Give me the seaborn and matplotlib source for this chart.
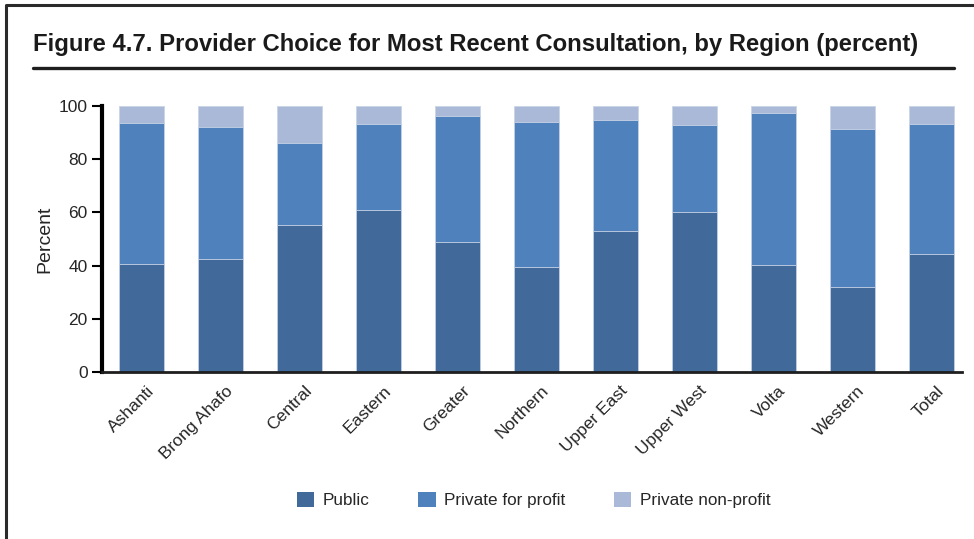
import matplotlib
matplotlib.use("Agg")
import matplotlib.pyplot as plt
import matplotlib.transforms as mtransforms
from matplotlib.lines import Line2D
from matplotlib.patches import Patch
import numpy as np
import pandas as pd
import seaborn as sns

# Regions and provider shares (percent)
regions = ["Ashanti", "Brong Ahafo", "Central", "Eastern", "Greater", "Northern",
           "Upper East", "Upper West", "Volta", "Western", "Total"]
public = [40.7, 42.4, 55.2, 60.8, 48.8, 39.7, 52.9, 60.1, 40.4, 31.9, 44.5]
private_profit = [53.0, 49.6, 31.0, 32.4, 47.6, 54.4, 41.7, 32.9, 57.1, 59.5, 48.9]
private_nonprofit = [6.3, 8.0, 13.8, 6.8, 3.6, 5.9, 5.4, 7.0, 2.5, 8.6, 6.6]

series_names = ["Public", "Private for profit", "Private non-profit"]
colors = ["#416a9b", "#4f81bd", "#aab9d8"]

df = pd.DataFrame({
    "region": regions,
    "Public": public,
    "Private for profit": private_profit,
    "Private non-profit": private_nonprofit,
})
# cumulative tops for stacking
cum = df[series_names].cumsum(axis=1)

sns.set_style("white")
plt.rcParams["font.family"] = ["Liberation Sans", "DejaVu Sans"]

fig = plt.figure(figsize=(9.74, 5.39), dpi=100)
ax = fig.add_axes([0.1044, 0.3093, 0.8830, 0.4941])

# draw from the top layer down so lower segments sit in front
for name, col in zip(reversed(series_names), reversed(colors)):
    sns.barplot(x=df["region"], y=cum[name], color=col, width=0.57,
                saturation=1, edgecolor="#c9d4e6", linewidth=0.6, ax=ax)

ax.set_ylim(0, 100)
ax.set_xlim(-0.5, 10.385)
ax.set_yticks([0, 20, 40, 60, 80, 100])
ax.set_ylabel("Percent", fontsize=14, labelpad=4)
ax.set_xlabel("")

for side in ["top", "right"]:
    ax.spines[side].set_visible(False)
ax.spines["left"].set_linewidth(3)
ax.spines["left"].set_color("black")
ax.spines["bottom"].set_linewidth(2)
ax.spines["bottom"].set_color("#1e1e1e")

ax.tick_params(axis="y", direction="out", length=7, width=1.5, color="black",
               labelsize=12.5, pad=3, left=True)
ax.tick_params(axis="x", length=0, labelsize=12.5, pad=2)

offset = mtransforms.ScaledTranslation(5 / 100, -8 / 100, fig.dpi_scale_trans)
for lbl in ax.get_xticklabels():
    lbl.set_rotation(45)
    lbl.set_ha("right")
    lbl.set_va("top")
    lbl.set_rotation_mode("anchor")
    lbl.set_transform(lbl.get_transform() + offset)

# legend below the plot
handles = [Patch(facecolor=c, edgecolor="none") for c in colors]
fig.legend(handles, series_names, loc="center", bbox_to_anchor=(0.548, 0.072),
           ncol=3, frameon=False, fontsize=12.3, handlelength=1.0, handleheight=1.0,
           columnspacing=2.85, handletextpad=0.5)

# title and rule beneath it
fig.text(33 / 974, 1 - 45 / 539,
         "Figure 4.7. Provider Choice for Most Recent Consultation, by Region (percent)",
         fontsize=17.2, fontweight="bold", ha="left", va="center", color="#1a1a1a")
fig.add_artist(Line2D([33 / 974, 954 / 974], [1 - 68 / 539, 1 - 68 / 539],
                      transform=fig.transFigure, color="#1e1e1e", linewidth=2.4))

# outer frame (left and top edges)
fig.add_artist(Line2D([6 / 974, 6 / 974, 1.0], [0.0, 1 - 5 / 539, 1 - 5 / 539],
                      transform=fig.transFigure, color="#2a2a2a", linewidth=2.2))

fig.savefig("out.png", dpi=100)
